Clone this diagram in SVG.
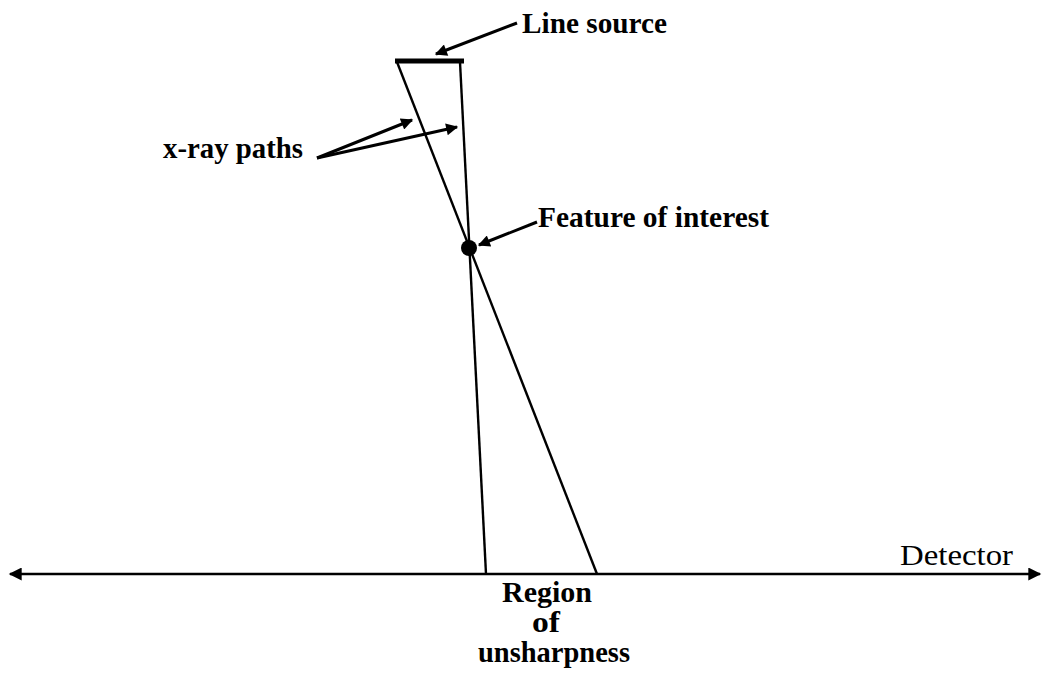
<svg xmlns="http://www.w3.org/2000/svg" width="1043" height="677" viewBox="0 0 1043 677">
<style>
.t{font-family:"Liberation Serif","Times New Roman",serif;font-size:30px;fill:#000}
.b{font-weight:bold}
.ln{stroke:#000;stroke-width:2.4;fill:none}
.ar{stroke:#000;stroke-width:3;fill:none}
</style>
<defs>
<marker id="ah" viewBox="0 0 10 10" refX="9" refY="5" markerWidth="6" markerHeight="4" markerUnits="strokeWidth" orient="auto">
<path d="M0,0 L10,5 L0,10 z" fill="#000"/>
</marker>
<marker id="ah2" viewBox="0 0 10 10" refX="9" refY="5" markerWidth="8" markerHeight="5" markerUnits="strokeWidth" orient="auto-start-reverse">
<path d="M0,0 L10,5 L0,10 z" fill="#000"/>
</marker>
</defs>
<rect width="1043" height="677" fill="#fff"/>
<g id="source">
<line x1="395" y1="61" x2="464" y2="61" stroke="#000" stroke-width="5"/>
<text class="t b" x="522" y="33" textLength="145" lengthAdjust="spacingAndGlyphs">Line source</text>
</g>
<g id="feature">
<circle cx="469" cy="248" r="8" fill="#000"/>
<text class="t b" x="538" y="227" textLength="231" lengthAdjust="spacingAndGlyphs">Feature of interest</text>
</g>
<g id="xray-label">
<text class="t b" x="163" y="158" textLength="140" lengthAdjust="spacingAndGlyphs">x-ray paths</text>
</g>
<g id="detector">
<line x1="10" y1="574" x2="1040" y2="574" stroke="#000" stroke-width="2.6" marker-start="url(#ah2)" marker-end="url(#ah2)"/>
<text class="t" x="900" y="565" textLength="113" lengthAdjust="spacingAndGlyphs">Detector</text>
</g>
<g id="region">
<text class="t b" x="547" y="602" text-anchor="middle" textLength="90" lengthAdjust="spacingAndGlyphs">Region</text>
<text class="t b" x="546" y="632" text-anchor="middle" textLength="28" lengthAdjust="spacingAndGlyphs">of</text>
<text class="t b" x="554" y="662" text-anchor="middle" textLength="152" lengthAdjust="spacingAndGlyphs">unsharpness</text>
</g>
<g id="connectors">
<line class="ln" x1="397" y1="62" x2="597" y2="574"/>
<line class="ln" x1="460" y1="62" x2="486" y2="574"/>
<line class="ar" x1="517" y1="23" x2="436" y2="54" marker-end="url(#ah)"/>
<line class="ar" x1="317" y1="158" x2="412" y2="120" marker-end="url(#ah)"/>
<line class="ar" x1="317" y1="158" x2="457" y2="127" marker-end="url(#ah)"/>
<line class="ar" x1="537" y1="222" x2="479" y2="245" marker-end="url(#ah)"/>
</g>
</svg>
